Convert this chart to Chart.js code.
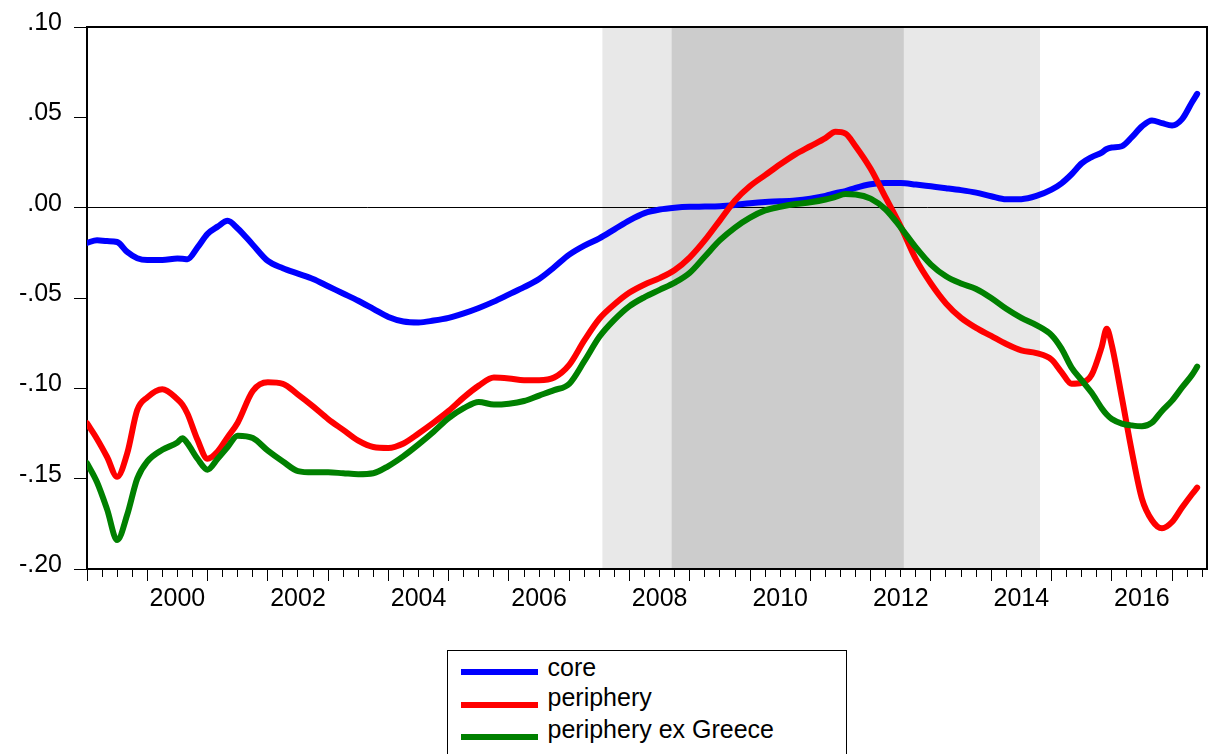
<!DOCTYPE html>
<html>
<head>
<meta charset="utf-8">
<script src="https://cdn.jsdelivr.net/npm/chart.js@4.4.1/dist/chart.umd.min.js"></script>
<style>
  html, body { margin: 0; padding: 0; background: #fff; overflow: hidden; }
  #wrap { position: relative; width: 1208px; height: 754px; }
  #legend { position: absolute; left: 447px; top: 650px; width: 400px; height: 130px;
            box-sizing: border-box; border: 1.5px solid #000; background: #fff;
            font-family: Arial, "Liberation Sans", sans-serif; font-size: 25px; color: #000; }
  .swatch { position: absolute; left: 12.5px; width: 77px; height: 6px; }
  .label { position: absolute; left: 99.5px; line-height: 25px; white-space: nowrap; }
</style>
</head>
<body>
<div id="wrap">
  <canvas id="chart" width="1208" height="754"></canvas>
  <div id="legend"></div>
</div>
<script>
const months = [
  '1999-01','1999-03','1999-05','1999-07','1999-09','1999-11',
  '2000-01','2000-04','2000-07','2000-08','2000-09','2000-11',
  '2001-01','2001-03','2001-05','2001-07','2001-10',
  '2002-01','2002-04','2002-07','2002-10',
  '2003-01','2003-04','2003-07','2003-10',
  '2004-01','2004-04','2004-07','2004-10',
  '2005-01','2005-04','2005-07','2005-10',
  '2006-01','2006-04','2006-07','2006-10',
  '2007-01','2007-04','2007-07','2007-10',
  '2008-01','2008-04','2008-07','2008-10',
  '2009-01','2009-04','2009-07','2009-10',
  '2010-01','2010-04','2010-07','2010-10',
  '2011-01','2011-04','2011-06','2011-08','2011-10',
  '2012-01','2012-04','2012-07','2012-10',
  '2013-01','2013-04','2013-07','2013-10',
  '2014-01','2014-04','2014-07','2014-10',
  '2015-01','2015-03','2015-05','2015-07','2015-09','2015-11','2015-12',
  '2016-01','2016-03','2016-05','2016-07','2016-09','2016-11',
  '2017-01','2017-03','2017-05','2017-06'
];

const core = [
  -0.0195, -0.0180, -0.0185, -0.0190, -0.0245, -0.0280,
  -0.0290, -0.0290, -0.0282, -0.0283, -0.0285, -0.0220,
  -0.0145, -0.0105, -0.0073, -0.0115, -0.0205,
  -0.0295, -0.0335, -0.0365, -0.0395,
  -0.0435, -0.0475, -0.0515, -0.0560,
  -0.0605, -0.0630, -0.0635, -0.0625,
  -0.0610, -0.0585, -0.0555, -0.0520,
  -0.0480, -0.0440, -0.0395, -0.0330,
  -0.0260, -0.0210, -0.0170, -0.0120,
  -0.0070, -0.0030, -0.0010, 0.0000,
  0.0005, 0.0006, 0.0008, 0.0015,
  0.0025, 0.0032, 0.0035, 0.0040,
  0.0050, 0.0065, 0.0080, 0.0092, 0.0110,
  0.0130, 0.0137, 0.0137, 0.0128,
  0.0118, 0.0108, 0.0097, 0.0083,
  0.0063, 0.0046, 0.0047, 0.0065,
  0.0100, 0.0135, 0.0185, 0.0245, 0.0280, 0.0305, 0.0325,
  0.0333, 0.0340, 0.0390, 0.0450, 0.0483, 0.0468,
  0.0455, 0.0490, 0.0585, 0.0630
];

const periphery = [
  -0.1193, -0.1280, -0.1380, -0.1490, -0.1360, -0.1120,
  -0.1050, -0.1005, -0.1060, -0.1090, -0.1140, -0.1285,
  -0.1390, -0.1350, -0.1270, -0.1190, -0.1015,
  -0.0967, -0.0975, -0.1035, -0.1100,
  -0.1170, -0.1230, -0.1290, -0.1325,
  -0.1330, -0.1305, -0.1250, -0.1190,
  -0.1125, -0.1050, -0.0985, -0.0940,
  -0.0945, -0.0955, -0.0955, -0.0940,
  -0.0870, -0.0735, -0.0615, -0.0535,
  -0.0470, -0.0425, -0.0390, -0.0345,
  -0.0275, -0.0180, -0.0070, 0.0040,
  0.0120, 0.0180, 0.0240, 0.0295,
  0.0340, 0.0385, 0.0420, 0.0410, 0.0340,
  0.0215, 0.0055, -0.0105, -0.0285,
  -0.0420, -0.0530, -0.0610, -0.0665,
  -0.0710, -0.0755, -0.0790, -0.0805,
  -0.0840, -0.0910, -0.0975, -0.0970, -0.0925, -0.0770, -0.0670,
  -0.0760, -0.1050, -0.1350, -0.1610, -0.1730, -0.1775,
  -0.1740, -0.1660, -0.1585, -0.1550
];

const peripheryExGreece = [
  -0.1414, -0.1520, -0.1670, -0.1840, -0.1700, -0.1500,
  -0.1405, -0.1340, -0.1300, -0.1276, -0.1305, -0.1390,
  -0.1450, -0.1390, -0.1325, -0.1262, -0.1275,
  -0.1345, -0.1405, -0.1458, -0.1465,
  -0.1465, -0.1470, -0.1475, -0.1470,
  -0.1430, -0.1375, -0.1310, -0.1240,
  -0.1165, -0.1110, -0.1075, -0.1090,
  -0.1085, -0.1070, -0.1040, -0.1010,
  -0.0975, -0.0850, -0.0715, -0.0620,
  -0.0545, -0.0495, -0.0455, -0.0415,
  -0.0360, -0.0270, -0.0180, -0.0110,
  -0.0055, -0.0015, 0.0005, 0.0020,
  0.0030, 0.0045, 0.0060, 0.0075, 0.0073,
  0.0050, -0.0010, -0.0110, -0.0220,
  -0.0315, -0.0380, -0.0420, -0.0450,
  -0.0500, -0.0560, -0.0610, -0.0650,
  -0.0705, -0.0780, -0.0885, -0.0955, -0.1025, -0.1110, -0.1145,
  -0.1170, -0.1195, -0.1205, -0.1210, -0.1190, -0.1125,
  -0.1068, -0.0995, -0.0925, -0.0880
];

const seriesNames = ['core', 'periphery', 'periphery ex Greece'];
const seriesColors = ['#0000ff', '#ff0000', '#008000'];
const yTickValues = [-0.20, -0.15, -0.10, -0.05, 0.00, 0.05, 0.10];
const yearLabels = [2000, 2002, 2004, 2006, 2008, 2010, 2012, 2014, 2016];
// shaded periods, in decimal years
const lightPeriod = [2007.55, 2014.81];
const darkPeriod = [2008.70, 2012.55];

function toYear(s) {
    const parts = s.split('-').map(Number);
    return parts[0] + (parts[1] - 1) / 12;
}

function fmtY(v) {
    return v.toFixed(2).replace('0.', '.');
}

const allSeries = [core, periphery, peripheryExGreece];

const datasets = allSeries.map(function (vals, i) {
    return {
        label: seriesNames[i],
        data: months.map(function (m, j) { return { x: toYear(m), y: vals[j] }; }),
        borderColor: seriesColors[i],
        backgroundColor: seriesColors[i],
        borderWidth: 6,
        pointRadius: 0,
        fill: false,
        cubicInterpolationMode: 'monotone',
        borderJoinStyle: 'round',
        borderCapStyle: 'round',
        order: 2 - i
    };
});

const shadePlugin = {
    id: 'shade',
    beforeDraw: function (chart) {
        const ctx = chart.ctx, a = chart.chartArea, x = chart.scales.x;
        ctx.save();
        ctx.fillStyle = '#e8e8e8';
        let x1 = x.getPixelForValue(lightPeriod[0]), x2 = x.getPixelForValue(lightPeriod[1]);
        ctx.fillRect(x1, a.top, x2 - x1, a.bottom - a.top);
        ctx.fillStyle = '#cccccc';
        x1 = x.getPixelForValue(darkPeriod[0]);
        x2 = x.getPixelForValue(darkPeriod[1]);
        ctx.fillRect(x1, a.top, x2 - x1, a.bottom - a.top);
        ctx.restore();
    }
};

const framePlugin = {
    id: 'frame',
    beforeDatasetsDraw: function (chart) {
        const ctx = chart.ctx, a = chart.chartArea;
        ctx.save();
        ctx.strokeStyle = '#000';
        ctx.lineWidth = 2;
        ctx.strokeRect(a.left, a.top, a.right - a.left, a.bottom - a.top);
        ctx.restore();
    }
};

Chart.defaults.font.family = 'Arial, "Liberation Sans", sans-serif';
Chart.defaults.font.size = 25;
Chart.defaults.color = '#000';

const config = {
    type: 'line',
    data: { datasets: datasets },
    options: {
        responsive: false,
        animation: false,
        devicePixelRatio: 1,
        layout: { padding: { top: 26, right: 1, left: 0, bottom: 0 } },
        plugins: {
            legend: { display: false },
            tooltip: { enabled: false }
        },
        scales: {
            x: {
                type: 'linear',
                min: 1999,
                max: 2017.58,
                afterBuildTicks: function (s) {
                    const t = [];
                    for (let v = 1999; v <= 2017.5; v += 0.25) t.push({ value: v });
                    s.ticks = t;
                },
                afterFit: function (s) { s.height = 185; },
                ticks: {
                    autoSkip: false,
                    maxRotation: 0,
                    minRotation: 0,
                    padding: 3,
                    color: '#000',
                    callback: function (v) {
                        const y = Math.floor(v);
                        return (v - y === 0.5 && yearLabels.includes(y)) ? String(y) : '';
                    }
                },
                grid: {
                    drawOnChartArea: false,
                    tickLength: 12,
                    tickColor: '#000',
                    tickWidth: 1,
                    tickBorderDash: function (c) {
                        return (c.tick && c.tick.value % 1 === 0) ? [] : [7, 40];
                    }
                },
                border: { display: true, color: '#000', width: 2 }
            },
            y: {
                min: -0.2,
                max: 0.1,
                afterBuildTicks: function (s) {
                    s.ticks = yTickValues.map(function (v) { return { value: v }; });
                },
                afterFit: function (s) { s.width = 87; },
                ticks: {
                    padding: 12,
                    labelOffset: -4,
                    color: '#000',
                    callback: function (v) { return fmtY(v); }
                },
                grid: {
                    drawOnChartArea: true,
                    color: function (c) {
                        return (c.tick && Math.abs(c.tick.value) < 1e-9) ? '#000' : 'rgba(0,0,0,0)';
                    },
                    lineWidth: 1,
                    tickLength: 13,
                    tickColor: '#000',
                    tickWidth: 1
                },
                border: { display: true, color: '#000', width: 2 }
            }
        }
    },
    plugins: [shadePlugin, framePlugin]
};

const myChart = new Chart(document.getElementById('chart'), config);

// legend built from the chart's datasets
const legendBox = document.getElementById('legend');
const swatchTops = [17.5, 50.5, 82.5];
const labelTops = [4.3, 34.3, 66.3];
myChart.data.datasets.forEach(function (ds, i) {
    const sw = document.createElement('div');
    sw.className = 'swatch';
    sw.style.top = swatchTops[i] + 'px';
    sw.style.background = ds.borderColor;
    legendBox.appendChild(sw);
    const lb = document.createElement('div');
    lb.className = 'label';
    lb.style.top = labelTops[i] + 'px';
    lb.textContent = ds.label;
    legendBox.appendChild(lb);
});
</script>
</body>
</html>
